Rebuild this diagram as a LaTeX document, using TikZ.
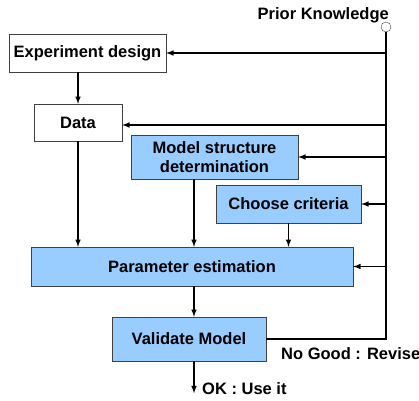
\documentclass[tikz,border=0pt]{standalone}
\usepackage{fontspec}
\setmainfont{Liberation Sans}
\usetikzlibrary{calc, positioning}
\definecolor{paleBlue}{HTML}{99CCFF}

\begin{document}
\begin{tikzpicture}
	[
		x=1pt, y=-1pt,
		>=latex,
		font=\fontsize{16.5}{19.5}\selectfont\bfseries,
		box/.style={
				rectangle,
				draw=black!75,
				thin,
				fill=white,
				align=center,
				inner sep=0pt,
			},
		blueBox/.style={
				box,
				fill=paleBlue,
			},
		flow/.style={
				->,
				line width=1.5pt,
			},
	]
	\useasboundingbox (0,0) rectangle (419,400);

	\node [box, minimum width=157pt, minimum height=38pt] (design) at (87.5,53) {Experiment design};
	\node [box, minimum width=88pt, minimum height=37pt] (data) at (78,122.5) {Data};
	\node [blueBox, minimum width=167pt, minimum height=44pt] (model) at (214.5,157) {Model structure\\determination};
	\node [blueBox, minimum width=145pt, minimum height=38pt] (criteria) at (288.5,204) {Choose criteria};
	\node [blueBox, minimum width=322pt, minimum height=39pt] (param) at (192,266.5) {Parameter estimation};
	\node [blueBox, minimum width=154pt, minimum height=44pt] (validate) at (189,339) {Validate Model};

	\node [circle, draw=black!75, thin, fill=white, minimum size=10pt, inner sep=0pt] (prior) at (386,27) {};
	\node [anchor=base east, inner sep=0pt] (priorText) at (389,19) {Prior Knowledge};
	\coordinate (mid) at (194,300);

	% feedback from validation back to prior knowledge
	\draw [line width=1.5pt] (validate.east) -- (prior |- validate.east) -- (prior.south);
	\node [anchor=base west, inner sep=0pt] (noGood) at (281,359) {No Good : Revise};

	% prior knowledge into every step
	\draw [flow] (prior |- design.east) -- (design.east);
	\draw [flow] (prior |- 0,125) -- (data.east |- 0,125);
	\draw [flow] (prior |- model.east) -- (model.east);
	\draw [flow] (prior |- criteria.east) -- (criteria.east);
	\draw [flow] (prior |- param.east) -- (param.east);

	% main flow
	\draw [flow] (design.south -| data) -- (data.north);
	\draw [flow] (data.south) -- (data |- param.north);
	\draw [flow] (mid |- model.south) -- (mid |- param.north);
	\draw [flow] (criteria.south) -- (criteria.south |- param.north);
	\draw [flow] (mid |- param.south) -- (mid |- validate.north);
	\draw [flow] (mid |- validate.south) -- ++(0,32) coordinate (ok);
	\node [anchor=base west, inner sep=0pt] (okText) at (202,394) {OK : Use it};
\end{tikzpicture}
\end{document}
